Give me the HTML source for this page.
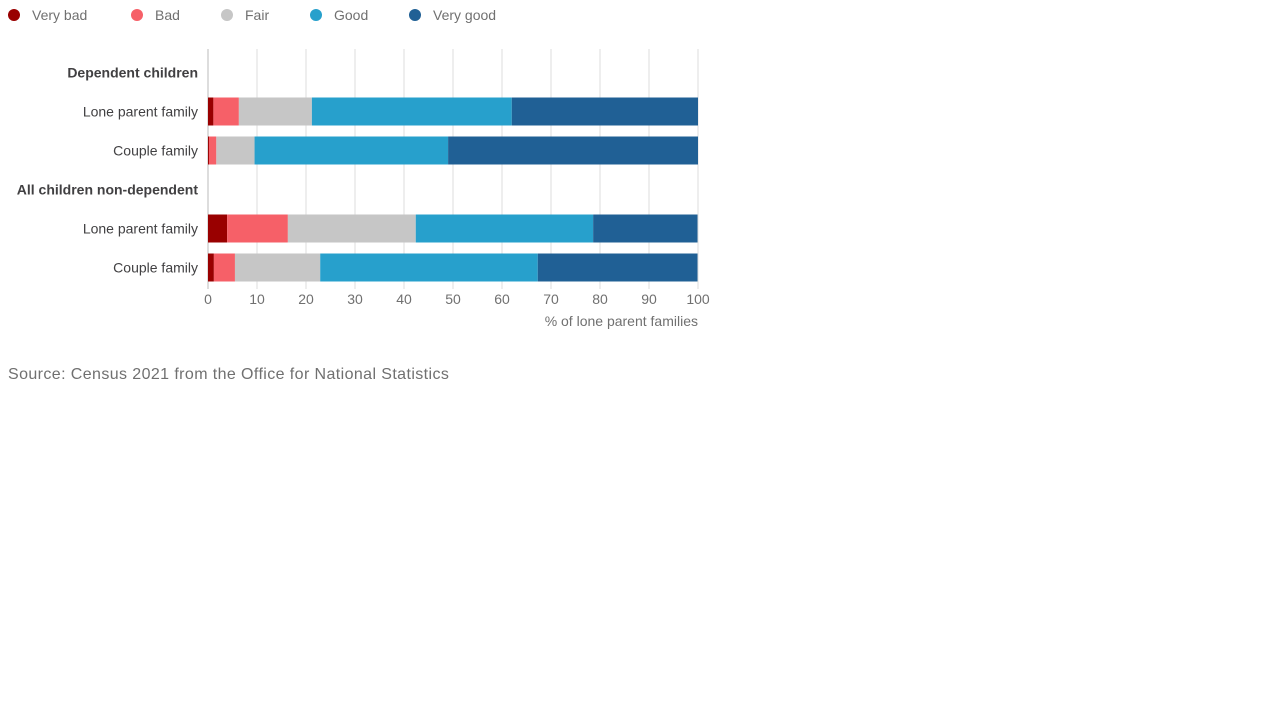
<!DOCTYPE html>
<html><head><meta charset="utf-8"><style>
body{margin:0;background:#fff;font-family:"Liberation Sans",sans-serif;}
svg text{font-family:"Liberation Sans",sans-serif;}
</style></head><body>
<svg width="1280" height="720" id="chart">
<g id="legend"></g>
<g id="grid"></g>
<g id="bars"></g>
<g id="labels"></g>
<g id="ticks"></g>
<text x="698" y="326" text-anchor="end" font-size="14" fill="#707070">% of lone parent families</text>
<text x="8" y="379" font-size="16" letter-spacing="0.4" fill="#707070">Source: Census 2021 from the Office for National Statistics</text>
</svg>
<script>
const categories=["Dependent children","Lone parent family","Couple family","All children non-dependent","Lone parent family","Couple family"];
const isHeader=[true,false,false,true,false,false];
const seriesNames=["Very bad","Bad","Fair","Good","Very good"];
const veryBad=[null,1.1,0.2,null,3.9,1.2];
const bad=[null,5.2,1.5,null,12.4,4.3];
const fair=[null,14.9,7.8,null,26.1,17.4];
const good=[null,40.8,39.5,null,36.2,44.4];
const veryGood=[null,38.0,51.0,null,21.3,32.6];
const ticks=[0,10,20,30,40,50,60,70,80,90,100];
const colors=["#990000","#f66068","#c6c6c6","#27a0cc","#206095"];
const NS="http://www.w3.org/2000/svg";
const x0=208,x1=698,yTop=53,band=39,barH=28;
const xs=v=>x0+(x1-x0)*v/100;
const yc=i=>yTop+band*i+band/2;
function mk(t,a,p){const e=document.createElementNS(NS,t);for(const k in a)e.setAttribute(k,a[k]);p.appendChild(e);return e;}
const lg=document.getElementById('legend');
const lx=[8,131,221,310,409];
seriesNames.forEach((n,i)=>{
 const c=mk('circle',{cx:lx[i]+6,cy:15,r:6,fill:colors[i]},lg);
 
 
 const t=mk('text',{x:lx[i]+24,y:20,'font-size':14,fill:'#707070'},lg);t.textContent=n;
 
 
});
const g=document.getElementById('grid'),tk=document.getElementById('ticks');
ticks.forEach(v=>{
 const l=mk('line',{x1:xs(v),x2:xs(v),y1:49,y2:289,stroke:v===0?'#bbb':'#ddd','stroke-width':1},g);
 
 
 const t=mk('text',{x:xs(v),y:304,'text-anchor':'middle','font-size':14,fill:'#707070'},tk);t.textContent=v;
 
 
});
const series=[veryBad,bad,fair,good,veryGood];
const bg=document.getElementById('bars'),lb=document.getElementById('labels');
categories.forEach((c,i)=>{
 const t=mk('text',{x:198,y:yc(i)+5,'text-anchor':'end','font-size':14,fill:'#414042','font-weight':isHeader[i]?'bold':'normal'},lb);t.textContent=c;
 
 
 if(isHeader[i])return;
 let acc=0;
 series.forEach((s,j)=>{
  const v=s[i];
  const r=mk('rect',{x:xs(acc),y:yc(i)-barH/2,width:xs(acc+v)-xs(acc),height:barH,fill:colors[j]},bg);
  
  
  acc+=v;
 });
});
</script>
</body></html>
